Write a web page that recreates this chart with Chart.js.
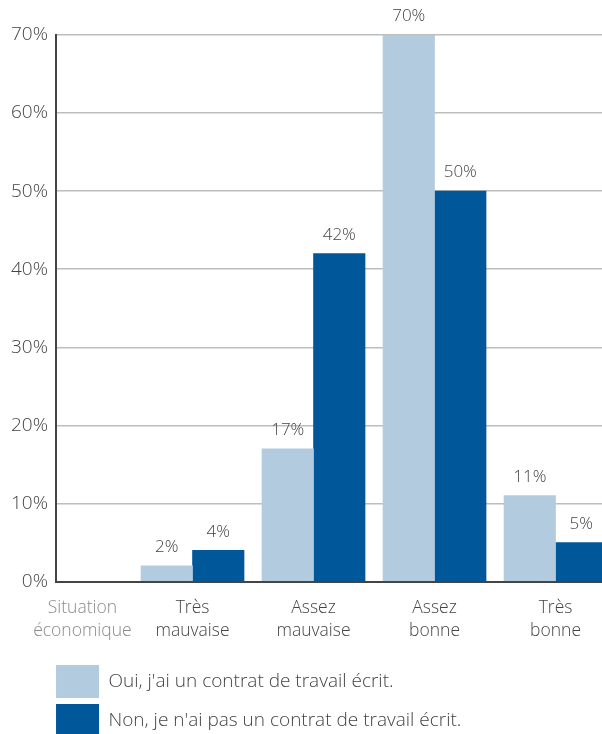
<!DOCTYPE html>
<html>
<head>
<meta charset="utf-8">
<script src="https://cdn.jsdelivr.net/npm/chart.js@4.4.1/dist/chart.umd.min.js"></script>
<style>
  html, body { margin: 0; padding: 0; background: #fff; overflow: hidden; }
  #wrap { width: 602px; height: 747px; }
</style>
</head>
<body>
<div id="wrap"><canvas id="contratChart" width="602" height="747"></canvas></div>
<script>
const categories = [["Situation", "économique"], ["Très", "mauvaise"], ["Assez", "mauvaise"], ["Assez", "bonne"], ["Très", "bonne"]];
const seriesNames = ["Oui, j'ai un contrat de travail écrit.", "Non, je n'ai pas un contrat de travail écrit."];
const ouiValues = [null, 2, 17, 70, 11];
const nonValues = [null, 4, 42, 50, 5];
const yTicks = [0, 10, 20, 30, 40, 50, 60, 70];

// x positions along the linear axis: first slot is only the row caption
const tickPos = [0.09, 1, 2, 3, 4];

const FONT = "'Open Sans', 'DejaVu Sans', sans-serif";
const LIGHT = "#b3cbdf";
const DARK = "#00589b";

function toPoints(values) {
  return values
    .map((v, i) => (v === null ? null : { x: i, y: v }))
    .filter(p => p !== null);
}

// prints the percentage above each bar
const valueLabels = {
  id: "valueLabels",
  afterDatasetsDraw(chart) {
    const ctx = chart.ctx;
    ctx.save();
    ctx.font = "300 17px " + FONT;
    ctx.fillStyle = "#444";
    ctx.textAlign = "center";
    ctx.textBaseline = "bottom";
    chart.data.datasets.forEach((ds, di) => {
      chart.getDatasetMeta(di).data.forEach((bar, i) => {
        ctx.fillText(ds.data[i].y + "%", bar.x, bar.y - 10);
      });
    });
    ctx.restore();
  }
};

// nudge legend to line up with the y axis
const legendShift = {
  id: "legendShift",
  afterLayout(chart) {
    chart.legend.left -= 6;
  }
};

new Chart(document.getElementById("contratChart").getContext("2d"), {
  type: "bar",
  data: {
    datasets: [
      { label: seriesNames[0], data: toPoints(ouiValues), backgroundColor: LIGHT },
      { label: seriesNames[1], data: toPoints(nonValues), backgroundColor: DARK }
    ]
  },
  options: {
    responsive: false,
    animation: false,
    barThickness: 51.5,
    layout: { padding: { top: 35, right: 0, left: 3, bottom: 0 } },
    plugins: {
      tooltip: { enabled: false },
      legend: {
        position: "bottom",
        align: "start",
        fullSize: false,
        labels: {
          boxWidth: 43,
          boxHeight: 33,
          padding: 6,
          color: "#444",
          font: { family: FONT, size: 19, weight: 300 }
        }
      }
    },
    scales: {
      x: {
        type: "linear",
        offset: false,
        min: -0.128,
        max: 4.384,
        grid: { display: false },
        border: { display: true, color: "#444", width: 2 },
        afterBuildTicks(scale) {
          scale.ticks = tickPos.map(v => ({ value: v }));
        },
        afterFit(scale) {
          scale.height += 10;
        },
        ticks: {
          autoSkip: false,
          maxRotation: 0,
          padding: 7,
          font: { family: FONT, size: 17.5, weight: 300, lineHeight: 1.3 },
          color: ctx => (ctx.index === 0 ? "#8a8a8a" : "#444"),
          callback: (value, index) => categories[index]
        }
      },
      y: {
        min: 0,
        max: 70,
        afterBuildTicks(scale) {
          scale.ticks = yTicks.map(v => ({ value: v }));
        },
        grid: { color: "#bdbdbd", lineWidth: 1.5, drawTicks: false },
        border: { display: true, color: "#444", width: 2 },
        ticks: {
          padding: 8,
          color: "#444",
          font: { family: FONT, size: 19, weight: 300 },
          callback: v => v + "%"
        }
      }
    }
  },
  plugins: [valueLabels, legendShift]
});
</script>
</body>
</html>
